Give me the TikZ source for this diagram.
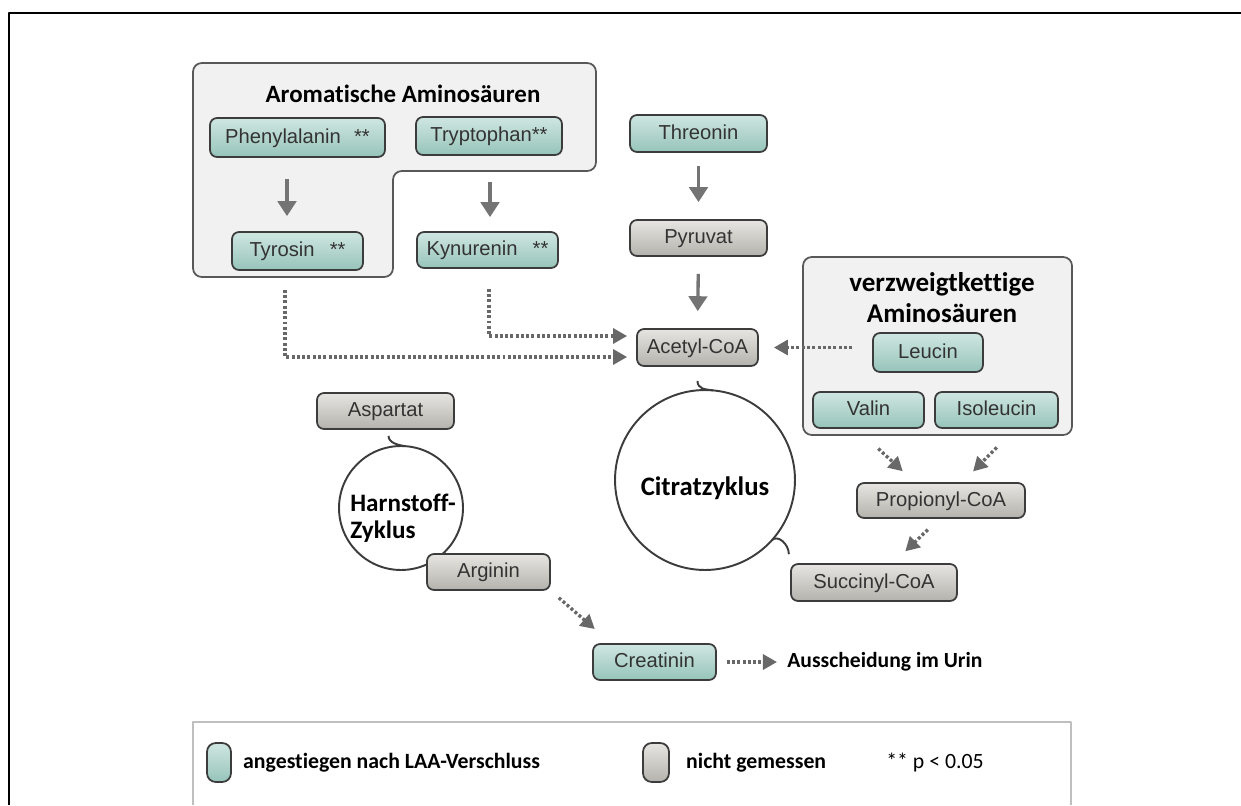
\documentclass[tikz,border=0pt]{standalone}
\usepackage{fontspec}
\setmainfont{Liberation Sans}
\newfontfamily\carlito[Ligatures=NoCommon]{Carlito}
\usetikzlibrary{arrows.meta, calc, positioning}

\definecolor{boxline}{HTML}{3C3C3C}
\definecolor{tealtop}{HTML}{CFE6E1}
\definecolor{tealbot}{HTML}{96C4BA}
\definecolor{greytop}{HTML}{E6E5E1}
\definecolor{greybot}{HTML}{B3B2AC}
\definecolor{arrowgrey}{HTML}{747474}
\definecolor{groupfill}{HTML}{F1F1F1}
\definecolor{groupline}{HTML}{585858}

\tikzset{
  metab/.style={draw=boxline, line width=1pt, rounded corners=4pt, minimum height=0.74cm,
    inner sep=2pt, text=black!80, text height=0.76em, text depth=0.08em,
    font=\fontsize{11.5}{13}\selectfont},
  measured/.style={metab, top color=tealtop, bottom color=tealbot},
  unmeasured/.style={metab, top color=greytop, bottom color=greybot},
  group/.style={draw=groupline, fill=groupfill, line width=1pt, rounded corners=5pt},
  grouptitle/.style={font=\carlito\bfseries\fontsize{14.2}{17}\selectfont, inner sep=0pt},
  conv/.style={draw=arrowgrey, line width=1.9pt, -{Triangle[width=10.5pt,length=8.5pt]}},
  dotconv/.style={draw=arrowgrey!90!black, line width=1.9pt, dash pattern=on 1.7pt off 1.3pt,
    -{Triangle[width=8.5pt,length=8pt]}},
  ring/.style={circle, draw=boxline, line width=1.1pt, inner sep=0pt, outer sep=0pt},
  hookline/.style={draw=boxline, line width=1.1pt},
  keytext/.style={font=\carlito\bfseries\fontsize{12.4}{14}\selectfont, inner sep=0pt},
}

\begin{document}
\begin{tikzpicture}[x=0.02cm, y=-0.02cm, line join=round]
  \useasboundingbox (0,0) rectangle (1241,805);

  % ===== frame and legend box =====
  \draw[line width=1.2pt] (9,805) -- (9,13) -- (1241,13);
  \draw[draw=black!25, line width=1pt] (193,805) -- (193,722) -- (1071,722) -- (1071,805);

  % ===== group boxes =====
  \draw[group] (193,63) -- (596,63) -- (596,171) -- (393,171) -- (393,277) -- (193,277) -- cycle;
  \node[grouptitle] (aromtitle) at (403,94) {Aromatische Aminosäuren};
  \draw[group] (803,257) rectangle (1072,435);
  \node[grouptitle, font=\carlito\bfseries\fontsize{15.4}{17.6}\selectfont, align=center]
    (bcaatitle) at (942,298) {verzweigtkettige\\Aminosäuren};

  % ===== cycles =====
  \node[ring, minimum size=3.6cm] (tca) at (705,480) {};
  \node[grouptitle, font=\carlito\bfseries\fontsize{15.2}{17}\selectfont] (tcatext) at (705,488) {Citratzyklus};
  \node[ring, minimum size=2.48cm] (urea) at (401,508) {};
  \node[grouptitle, anchor=west, align=left, font=\carlito\bfseries\fontsize{14.3}{15.4}\selectfont]
    (ureatext) at (350,518) {Harnstoff-\\Zyklus};

  % ===== metabolites =====
  \node[measured, minimum width=3.5cm, minimum height=0.78cm] (phe) at (297.5,137.5) {Phenylalanin\hspace{0.65em}**};
  \node[measured, minimum width=2.92cm, minimum height=0.76cm] (trp) at (489,136) {Tryptophan**};
  \node[measured, minimum width=2.62cm, minimum height=0.76cm] (tyr) at (297.5,251) {Tyrosin\hspace{0.75em}**};
  \node[measured, minimum width=2.82cm, minimum height=0.72cm] (kyn) at (487.5,250) {Kynurenin\hspace{0.75em}**};
  \node[measured, minimum width=2.74cm] (thr) at (698.5,133.5) {Threonin};
  \node[unmeasured, minimum width=2.74cm, minimum height=0.72cm] (pyr) at (698.5,238) {Pyruvat};
  \node[unmeasured, minimum width=2.42cm] (acetyl) at (697.5,347.5) {Acetyl-CoA};
  \node[measured, minimum width=2.2cm, minimum height=0.78cm] (leu) at (928,352.5) {Leucin};
  \node[measured, minimum width=2.22cm, minimum height=0.72cm] (val) at (868.5,410) {Valin};
  \node[measured, minimum width=2.46cm, minimum height=0.72cm] (ile) at (996.5,410) {Isoleucin};
  \node[unmeasured, minimum width=3.36cm, minimum height=0.7cm] (prop) at (941,500.5) {Propionyl-CoA};
  \node[unmeasured, minimum width=3.32cm] (succ) at (874,582.5) {Succinyl-CoA};
  \node[unmeasured, minimum width=2.74cm, minimum height=0.72cm] (asp) at (385.5,411) {Aspartat};
  \node[unmeasured, minimum width=2.46cm, minimum height=0.72cm] (arg) at (488.5,572) {Arginin};
  \node[measured, minimum width=2.46cm, minimum height=0.72cm] (creat) at (654.5,662) {Creatinin};
  \node[keytext, anchor=west, font=\carlito\bfseries\fontsize{12.3}{14}\selectfont] (urin) at (787,662) {Ausscheidung im Urin};

  % hooks into the cycles
  \draw[hookline] ($(acetyl.south)+(0,14)$) .. controls +(0,8) and +(-8,-1) .. (tca.85);
  \draw[hookline] (tca.-42) .. controls +(6,-6) and +(0,-10) .. ($(tca.-42)+(17,14)$);
  \draw[hookline] ($(asp.south)+(3,6)$) .. controls +(0,7) and +(-7,-1) .. (urea.86);

  % ===== conversions =====
  \draw[conv, shorten <=0.42cm, shorten >=0.3cm] ([xshift=-0.21cm]phe.south) -- ([xshift=-0.21cm]phe.south |- tyr.north);
  \draw[conv, shorten <=0.52cm, shorten >=0.28cm] ([xshift=0.02cm]trp.south) -- ([xshift=0.02cm]trp.south |- kyn.north);
  \draw[conv, shorten <=0.26cm, shorten >=0.34cm] (thr.south) -- (pyr.north);
  \draw[conv, shorten <=0.34cm, shorten >=0.34cm] (pyr.south) -- (acetyl.north);

  \draw[dotconv, shorten <=0.38cm, shorten >=0.18cm] ([xshift=-0.25cm]tyr.south) |- ([yshift=-0.19cm]acetyl.west);
  \draw[dotconv, shorten <=0.4cm, shorten >=0.18cm] ([xshift=0.03cm]kyn.south) |- ([yshift=0.23cm]acetyl.west);
  \draw[dotconv, shorten <=0.4cm, shorten >=0.3cm] (leu.west |- acetyl.east) -- (acetyl.east);
  \draw[dotconv, shorten <=0.58cm, shorten >=0.32cm] ([xshift=-0.23cm]val.south) -- ([xshift=-0.53cm]prop.north);
  \draw[dotconv, shorten <=0.52cm, shorten >=0.3cm] ([xshift=0.37cm]ile.south) -- ([xshift=0.43cm]prop.north);
  \draw[dotconv, shorten <=0.31cm, shorten >=0.34cm] ([xshift=-0.04cm]prop.south) -- ([xshift=0.38cm]succ.north);
  \draw[dotconv, shorten <=0.21cm, shorten >=0.43cm] (arg.south east) -- ([xshift=-0.87cm]creat.north);
  \draw[dotconv, shorten <=0.2cm, shorten >=0.2cm] (creat.east) -- (urin.west);

  % ===== legend =====
  \node[measured, minimum width=0.48cm, minimum height=0.78cm, rounded corners=5pt] (keyup) at (219,762.5) {};
  \node[keytext, right=0.22cm of keyup] (keyuptext) {angestiegen nach LAA-Verschluss};
  \node[unmeasured, minimum width=0.52cm, minimum height=0.78cm, rounded corners=5pt] (keyna) at (656,762.5) {};
  \node[keytext, right=0.32cm of keyna] (keynatext) {nicht gemessen};
  \node[keytext, font=\carlito\fontsize{12.4}{14}\selectfont, anchor=west] (keyp) at (886,763) {** p < 0.05};

\end{tikzpicture}
\end{document}
